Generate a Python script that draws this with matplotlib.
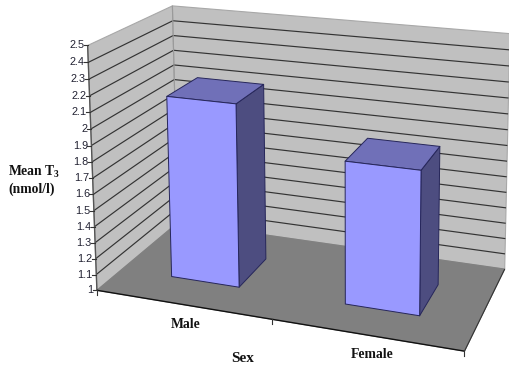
import numpy as np
import matplotlib
matplotlib.use("Agg")
import matplotlib.pyplot as plt

plt.rcParams["mathtext.fontset"] = "custom"
plt.rcParams["mathtext.bf"] = "Liberation Serif:bold"

categories = ["Male", "Female"]
mean_t3 = [2.14, 1.87]
y_ticks = [1, 1.1, 1.2, 1.3, 1.4, 1.5, 1.6, 1.7, 1.8, 1.9, 2, 2.1, 2.2, 2.3, 2.4, 2.5]

# box corners (category, depth, value) and where they land on the canvas
box_world = np.array([[0, 0, 1], [0, 0, 2.5], [0, 1, 1], [0, 1, 2.5],
                      [2, 1, 1], [2, 1, 2.5], [2, 0, 1]], float)
box_canvas = np.array([[97, 290], [88, 45], [178, 223], [172, 6],
                       [505, 268], [510, 34], [464, 352]], float)


def fit_camera(world, canvas):
    rows, rhs = [], []
    for (x, y, z), (u, v) in zip(world, canvas):
        rows.append([x, y, z, 1, 0, 0, 0, 0, -u * x, -u * y, -u * z])
        rhs.append(u)
        rows.append([0, 0, 0, 0, x, y, z, 1, -v * x, -v * y, -v * z])
        rhs.append(v)
    coef = np.linalg.lstsq(np.array(rows), np.array(rhs), rcond=None)[0]
    return np.append(coef, 1).reshape(3, 4)


camera = fit_camera(box_world, box_canvas)


def project(x, y, z):
    q = camera @ np.array([x, y, z, 1.0])
    return q[0] / q[2], q[1] / q[2]


def face(ax, corners, color, edge=None, lw=0.8, zorder=1):
    pts = [project(*c) for c in corners]
    ax.fill(*zip(*pts), facecolor=color, edgecolor=edge if edge else color,
            linewidth=lw, zorder=zorder, joinstyle="round")


def line3d(ax, corners, color="#222222", lw=0.9, zorder=2):
    pts = [project(*c) for c in corners]
    ax.plot(*zip(*pts), color=color, linewidth=lw, zorder=zorder, solid_capstyle="butt")


fig = plt.figure(figsize=(5.1, 3.7), dpi=100)
ax = fig.add_axes([0, 0, 1, 1])
ax.set_xlim(0, 510)
ax.set_ylim(370, 0)
ax.axis("off")

# walls and floor
face(ax, [(0, 0, 1), (0, 0, 2.5), (0, 1, 2.5), (0, 1, 1)], "#c0c0c0", "#a8a8a8")
face(ax, [(0, 1, 1), (0, 1, 2.5), (2, 1, 2.5), (2, 1, 1)], "#c0c0c0", "#a8a8a8")
face(ax, [(0, 0, 1), (0, 1, 1), (2, 1, 1), (2, 0, 1)], "#808080", "#808080")

# gridlines run along the left wall and across the back wall
for tick in y_ticks[1:-1]:
    line3d(ax, [(0, 0, tick), (0, 1, tick), (2, 1, tick)], color="#333333", lw=0.85)

# axis lines
line3d(ax, [(0, 0, 1), (0, 0, 2.5)], color="#555555", lw=1.0, zorder=3)
line3d(ax, [(0, 1, 1), (0, 1, 2.5)], color="#9a9a9a", lw=0.8, zorder=2)
line3d(ax, [(0, 0, 1), (2, 0, 1)], color="#111111", lw=1.0, zorder=3)
line3d(ax, [(2, 0, 1), (2, 1, 1)], color="#333333", lw=0.8, zorder=3)

for tick in y_ticks:
    px, py = project(0, 0, tick)
    ax.plot([px - 4, px], [py, py], color="#333333", lw=0.8, zorder=3)
    ax.text(px - 3.5, py, f"{tick:g}", ha="right", va="center", fontsize=7.8,
            family="Liberation Sans", color="#222233")

for cat in range(3):
    px, py = project(cat, 0, 1)
    ax.plot([px, px], [py, py + 5], color="#333333", lw=0.8, zorder=3)

# bars, left one first so the nearer faces overlap correctly
half_width = 0.2
depth_front, depth_back = 0.29, 0.68
for i, value in enumerate(mean_t3):
    x0, x1 = i + 0.5 - half_width, i + 0.5 + half_width
    y0, y1 = depth_front, depth_back
    edge = "#26265a"
    face(ax, [(x1, y0, 1), (x1, y1, 1), (x1, y1, value), (x1, y0, value)],
         "#4d4d80", edge, lw=0.7, zorder=4)
    face(ax, [(x0, y0, value), (x1, y0, value), (x1, y1, value), (x0, y1, value)],
         "#7070b8", edge, lw=0.7, zorder=4)
    face(ax, [(x0, y0, 1), (x1, y0, 1), (x1, y0, value), (x0, y0, value)],
         "#9999ff", edge, lw=0.7, zorder=5)

serif = dict(family="Liberation Serif", weight="bold", color="#111111", fontsize=9.8)
ax.text(186, 325, categories[0], ha="center", va="center", **serif)
ax.text(372, 355, categories[1], ha="center", va="center", **serif)
ax.text(243, 359, "Sex", ha="center", va="center", **{**serif, "fontsize": 11})
ax.text(8, 172, r"Mean T$_{\mathbf{3}}$", ha="left", va="center", **serif)
ax.text(8, 189, "(nmol/l)", ha="left", va="center", **serif)

fig.savefig("out.png", dpi=100)
